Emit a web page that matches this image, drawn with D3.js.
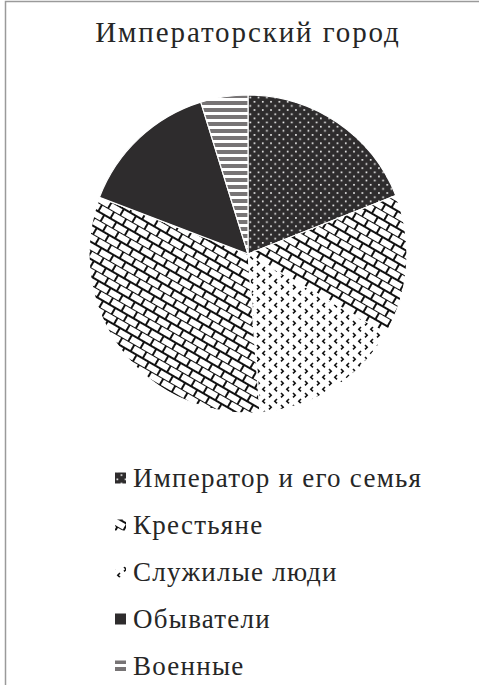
<!DOCTYPE html>
<html>
<head>
<meta charset="utf-8">
<script src="https://cdn.jsdelivr.net/npm/d3@7/dist/d3.min.js"></script>
<style>
  body { margin: 0; background: #fff; }
  svg { display: block; }
</style>
</head>
<body>
<script>
// chart data
const title = "Императорский город";
const categories = ["Император и его семья", "Крестьяне", "Служилые люди", "Обыватели", "Военные"];
// the picture shows the peasants' hatch on both sides of the servicemen slice,
// so the pie is drawn slice by slice, clockwise from 12 o'clock
const sliceCategory = ["Император и его семья", "Крестьяне", "Служилые люди", "Крестьяне", "Обыватели", "Военные"];
const sliceValues = [19.0, 14.3, 15.5, 32.0, 14.4, 4.8];

const W = 479, H = 685;
const cx = 248, cy = 254, R = 159;
const serifFont = "'Liberation Serif', Tinos, serif";
const dark = "#2e2c2d";

const svg = d3.select("body").append("svg").attr("width", W).attr("height", H);
const defs = svg.append("defs");

// hatch fills, one per category (same order as categories)
function makePattern(id, w, h, transform, bg) {
  const p = defs.append("pattern")
    .attr("id", id)
    .attr("patternUnits", "userSpaceOnUse")
    .attr("width", w).attr("height", h)
    .attr("patternTransform", transform);
  p.append("rect").attr("width", w).attr("height", h).attr("fill", bg);
  return p;
}

// white dots on dark
let p0 = makePattern("pat0", 8.3, 8.3, "translate(1,0)", dark);
p0.append("rect").attr("x", 0.5).attr("y", 0.5).attr("width", 1.6).attr("height", 1.6).attr("fill", "#fff");
p0.append("rect").attr("x", 4.65).attr("y", 4.65).attr("width", 1.6).attr("height", 1.6).attr("fill", "#fff");

// diagonal brick (shingle)
let p1 = makePattern("pat1", 14, 15, "rotate(30)", "#fff");
p1.append("path")
  .attr("d", "M0,0.5H14M0,8H14M3,0.5V8M10,8V15")
  .attr("stroke", "#111").attr("stroke-width", 1.8).attr("fill", "none")
  .attr("shape-rendering", "crispEdges");

// small chevrons (divot)
let p2 = makePattern("pat2", 12, 12, "translate(1,0)", "#fff");
p2.append("path")
  .attr("d", "M4,1L1.8,3.2L4,5.4M8,7L10.2,9.2L8,11.4")
  .attr("stroke", "#111").attr("stroke-width", 1.6).attr("fill", "none");

// solid dark
makePattern("pat3", 8, 8, null, dark);

// grey horizontal stripes
let p4 = makePattern("pat4", 8, 7, "translate(0,1)", "#fff");
p4.append("rect").attr("y", 0).attr("width", 8).attr("height", 4).attr("fill", "#777475");

// frame of the chart area
svg.append("path")
  .attr("d", "M5.5," + H + "V1.5H" + W)
  .attr("fill", "none").attr("stroke", "#9a9a9a").attr("stroke-width", 1.5);

svg.append("text")
  .attr("x", cx).attr("y", 42)
  .attr("text-anchor", "middle")
  .style("font-family", serifFont)
  .style("font-size", "29px")
  .style("letter-spacing", "1.9px")
  .attr("fill", "#262626")
  .text(title);

const pie = d3.pie().sort(null).value(function(d) { return d; });
const arc = d3.arc().innerRadius(0).outerRadius(R);

svg.append("g")
  .attr("transform", "translate(" + cx + "," + cy + ")")
  .selectAll("path")
  .data(pie(sliceValues))
  .enter()
  .append("path")
  .attr("d", arc)
  .attr("fill", function(d, i) { return "url(#pat" + categories.indexOf(sliceCategory[i]) + ")"; })
  .attr("stroke", "#ffffff")
  .attr("stroke-width", 1.2);

// legend
const legendY = d3.scalePoint().domain(categories).range([478, 666]);

const leg = svg.append("g")
  .selectAll("g")
  .data(categories)
  .enter()
  .append("g")
  .attr("transform", function(d) { return "translate(115," + legendY(d) + ")"; });

leg.append("rect")
  .attr("x", 0).attr("y", -5.5).attr("width", 11).attr("height", 11)
  .attr("fill", function(d, i) { return "url(#pat" + i + ")"; });

leg.append("text")
  .attr("x", 18).attr("y", 9)
  .style("font-family", serifFont)
  .style("font-size", "27px")
  .style("letter-spacing", "1.25px")
  .attr("fill", "#262626")
  .text(function(d) { return d; });
</script>
</body>
</html>
